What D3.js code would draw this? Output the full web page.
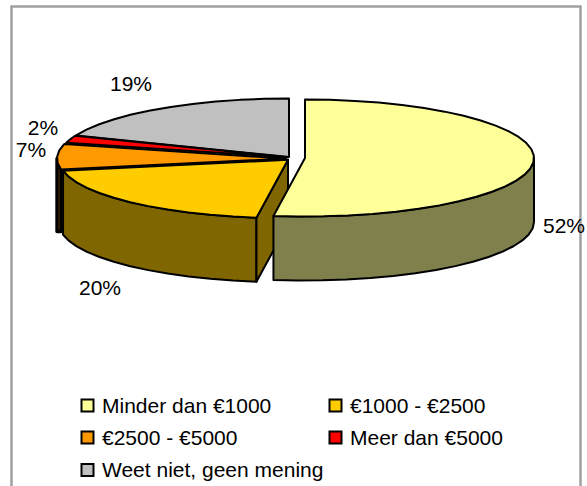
<!DOCTYPE html>
<html>
<head>
<meta charset="utf-8">
<script src="https://cdn.jsdelivr.net/npm/d3@7"></script>
<style>
html,body{margin:0;padding:0;background:#fff}
svg{display:block}
text{font-family:"Liberation Sans",Arial,sans-serif;fill:#000}
</style>
</head>
<body>
<svg id="c" width="587" height="486"></svg>
<script>
const categories = ["Minder dan €1000","€1000 - €2500","€2500 - €5000","Meer dan €5000","Weet niet, geen mening"];
const values = [52.2,19.8,7,2,19];
const valueLabels = ["52%","20%","7%","2%","19%"];
const topColors = ["#FFFF99","#FFCC00","#FF9900","#FF0000","#C0C0C0"];
const sideColors = ["#80804D","#806600","#804D00","#800000","#606060"];

// layout
const W=587,H=486, cx=289, cy=157, rx=229, ry=58.5, depth=64;
const offsets=[[16,1],[-1,2.8],[-3,1.6],[-1,0.3],[0,0]];
const labelPos=[[564,233],[100,295],[31,157],[43,135],[131,91]];
const legendPos=[[81,405],[329,405],[81,437],[329,437],[81,469.5]];

const svg=d3.select("#c");
svg.append("rect").attr("x",11.5).attr("y",6.5).attr("width",569).attr("height",H+20)
  .attr("fill","#fff").attr("stroke","#A0A0A0").attr("stroke-width",2.5);

const px=d3.scaleLinear().domain([-1,1]).range([cx-rx,cx+rx]);
const py=d3.scaleLinear().domain([-1,1]).range([cy+ry,cy-ry]);
const slices=d3.pie().sort(null).value(d=>d)(values);
const line=d3.line();
const STEP=0.11;

function rimAngles(a0,a1){
  const n=Math.max(1,Math.ceil((a1-a0)/STEP)),out=[];
  for(let i=0;i<=n;i++)out.push(a0+(a1-a0)*i/n);
  return out;
}
const pt=(a,o,dz=0)=>[px(Math.sin(a))+o[0],py(Math.cos(a))+o[1]+dz];
const centre=(o,dz=0)=>[px(0)+o[0],py(0)+o[1]+dz];

function draw(points,fill,sw=2){
  svg.append("path").attr("d",line(points)+"Z").attr("fill",fill)
    .attr("stroke","#000").attr("stroke-width",sw).attr("stroke-linejoin","round");
}

// draw back-to-front: grey, red, orange, gold walls, then light yellow
const order=[4,3,2,1,0];
order.forEach(i=>{
  const s=slices[i],o=offsets[i];
  const a0=Math.max(s.startAngle,Math.PI/2),a1=Math.min(s.endAngle,3*Math.PI/2);
  if(a1>a0){
    const rim=rimAngles(a0,a1);
    const topEdge=rim.map(a=>pt(a,o));
    // the narrow orange wall seen edge-on ends flat and reads almost black
    const thin=(i===2);
    const baseY=pt(a0,o,depth)[1];
    const bottomEdge=rim.slice().reverse().map(a=>{
      const p=pt(a,o,depth);
      return thin?[p[0],baseY-2]:p;
    });
    draw(topEdge.concat(bottomEdge),sideColors[i],thin?3.4:2);
  }
  if(i===1){
    const a=s.startAngle;
    draw([centre(o),pt(a,o),pt(a,o,depth),centre(o,depth)],sideColors[i]);
  }
  const rim=rimAngles(s.startAngle,s.endAngle);
  draw([centre(o)].concat(rim.map(a=>pt(a,o))),topColors[i]);
});

svg.append("g").selectAll("text").data(valueLabels).join("text")
  .attr("x",(d,i)=>labelPos[i][0]).attr("y",(d,i)=>labelPos[i][1])
  .attr("text-anchor","middle").attr("font-size",21).text(d=>d);

const lg=svg.append("g").selectAll("g").data(categories).join("g")
  .attr("transform",(d,i)=>`translate(${legendPos[i][0]},${legendPos[i][1]})`);
lg.append("rect").attr("x",0.5).attr("y",-5.5).attr("width",12).attr("height",12)
  .attr("fill",(d,i)=>topColors[i]).attr("stroke","#000").attr("stroke-width",2);
lg.append("text").attr("x",21).attr("y",7.5).attr("font-size",21).text(d=>d);
</script>
</body>
</html>
